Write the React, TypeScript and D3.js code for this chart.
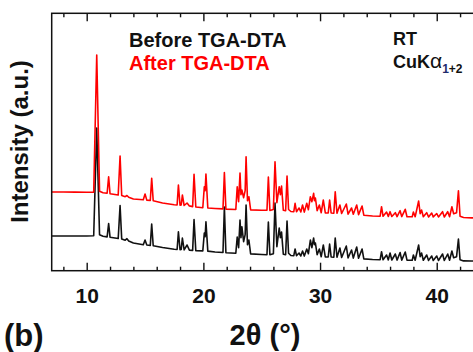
import { useEffect, useRef } from "react";
import * as d3 from "d3";

// 2θ grid (deg) shared by both patterns
const twoTheta = [
  7.0, 8.0, 9.0, 10.0, 10.6, 10.86, 11.1, 11.4, 11.75, 11.88, 12.0, 12.7, 12.86, 13.0, 13.3, 13.45, 13.6, 14.0,
  14.85, 15.0, 15.15, 15.45, 15.57, 15.7, 16.5, 17.5, 17.75, 17.86, 18.0, 18.1, 18.2, 18.35, 18.6, 18.8,
  19.08, 19.2, 19.35, 19.95, 20.08, 20.15, 20.22, 20.38, 21.0, 21.68, 21.8, 21.93, 22.78, 22.9, 23.02, 23.14,
  23.22, 23.3, 23.45, 23.58, 23.66, 23.78, 23.9, 24.05, 25.0, 25.45, 25.57, 25.7, 26.0, 26.14, 26.3, 26.5,
  26.6, 26.7, 26.85, 27.05, 27.17, 27.3, 27.5, 27.75, 27.86, 27.98, 28.2, 28.35, 28.5, 28.65, 28.86, 29.0,
  29.17, 29.3, 29.45, 29.52, 29.6, 29.75, 29.94, 30.1, 30.28, 30.45, 30.7, 30.82, 30.95, 31.18, 31.3, 31.45,
  31.7, 31.85, 32.25, 32.4, 32.7, 32.85, 33.14, 33.3, 33.6, 33.75, 34.5, 35.15, 35.27, 35.4, 35.7, 35.85,
  36.0, 36.15, 36.45, 36.6, 36.86, 37.0, 37.3, 37.45, 37.9, 38.0, 38.15, 38.45, 38.58, 38.7, 38.85, 39.14,
  39.3, 39.57, 39.7, 40.0, 40.15, 40.5, 40.65, 40.94, 41.1, 41.3, 41.45, 41.7, 41.86, 42.0, 42.3, 43.0, 43.5,
];

// intensity (counts), before TGA-DTA
const before = [
  347, 347, 347, 347, 350, 1427, 360, 345, 338, 472, 335, 322, 652, 318, 305, 320, 298, 277,
  259, 307, 257, 253, 467, 250, 232, 215, 212, 390, 210, 212, 327, 208, 257, 205,
  203, 512, 201, 198, 377, 340, 490, 196, 187, 182, 637, 180, 175, 337, 230, 507,
  330, 440, 290, 360, 657, 260, 307, 168, 162, 160, 487, 159, 170, 677, 240, 427,
  330, 387, 165, 160, 497, 175, 152, 150, 217, 150, 177, 147, 197, 146, 217, 170,
  307, 230, 327, 260, 277, 160, 217, 140, 257, 138, 137, 267, 137, 135, 327, 134,
  227, 132, 247, 128, 207, 126, 237, 124, 217, 118, 112, 110, 190, 109, 157, 108,
  177, 107, 167, 106, 182, 106, 187, 105, 105, 157, 104, 257, 140, 177, 104, 157,
  103, 147, 103, 147, 102, 167, 102, 167, 105, 197, 130, 140, 317, 110, 98, 97, 96,
];

// intensity (counts), after TGA-DTA (plotted shifted up by afterOffset)
const after = [
  347, 347, 346, 344, 345, 1717, 355, 340, 335, 500, 330, 317, 707, 312, 300, 312, 295, 277,
  269, 327, 266, 262, 484, 260, 237, 220, 217, 417, 215, 217, 317, 212, 237, 208,
  201, 524, 197, 190, 400, 360, 527, 187, 182, 178, 542, 176, 172, 400, 250, 537,
  320, 367, 290, 360, 700, 260, 300, 168, 165, 164, 497, 163, 172, 650, 240, 400,
  320, 407, 165, 160, 507, 172, 152, 150, 234, 150, 187, 147, 217, 146, 234, 170,
  300, 250, 334, 260, 287, 160, 217, 140, 267, 138, 137, 267, 137, 135, 350, 134,
  217, 132, 227, 126, 187, 124, 217, 121, 207, 115, 107, 105, 200, 104, 147, 103,
  150, 102, 140, 101, 160, 101, 174, 100, 100, 147, 99, 257, 130, 167, 99, 140,
  98, 137, 98, 132, 97, 150, 97, 150, 100, 200, 130, 140, 360, 105, 92, 88, 87,
];
const afterOffset = 440;

const majorTicks = [10, 20, 30, 40];
const minorTicks = [8, 12, 14, 16, 18, 22, 24, 26, 28, 32, 34, 36, 38, 42];

const W = 473;
const H = 352;
const FONT = "'Liberation Sans', Arial, sans-serif";

export default function App() {
  const svgRef = useRef<SVGSVGElement>(null);

  const left = 51.7;
  const top = 13.3;
  const bottom = 270.7;
  const right = 483.4;

  const x = d3.scaleLinear().domain([7, 44]).range([left, right]);
  const y = d3.scaleLinear().domain([0, 2574]).range([bottom, top]);

  const ptsBefore: [number, number][] = twoTheta.map((t, i) => [t, before[i]]);
  const ptsAfter: [number, number][] = twoTheta.map((t, i) => [t, after[i] + afterOffset]);
  const line = d3
    .line<[number, number]>()
    .x((d) => x(d[0]))
    .y((d) => y(d[1]));

  useEffect(() => {
    const svg = d3.select(svgRef.current);
    const style = (g: any) => {
      g.select(".domain").remove();
      g.selectAll(".tick line").attr("stroke", "#111").attr("stroke-width", 1.4);
      g.selectAll(".tick text")
        .attr("font-family", FONT)
        .attr("font-weight", "bold")
        .attr("font-size", 21)
        .attr("fill", "#111");
    };
    svg
      .select<SVGGElement>(".x-major")
      .attr("transform", `translate(0,${bottom})`)
      .call(d3.axisBottom(x).tickValues(majorTicks).tickSize(-8).tickSizeOuter(0).tickPadding(17).tickFormat(d3.format("d")))
      .call(style);
    svg
      .select<SVGGElement>(".x-minor")
      .attr("transform", `translate(0,${bottom})`)
      .call(d3.axisBottom(x).tickValues(minorTicks).tickSize(-4).tickSizeOuter(0).tickFormat(() => ""))
      .call(style);
    svg
      .select<SVGGElement>(".t-major")
      .attr("transform", `translate(0,${top})`)
      .call(d3.axisTop(x).tickValues(majorTicks).tickSize(-8).tickSizeOuter(0).tickFormat(() => ""))
      .call(style);
    svg
      .select<SVGGElement>(".t-minor")
      .attr("transform", `translate(0,${top})`)
      .call(d3.axisTop(x).tickValues(minorTicks).tickSize(-4).tickSizeOuter(0).tickFormat(() => ""))
      .call(style);
  }, []);

  return (
    <div style={{ position: "fixed", left: 0, top: 0 }}>
      <svg ref={svgRef} width={W} height={H} style={{ display: "block", background: "#fff" }}>
        <defs>
          <clipPath id="plot">
            <rect x={left} y={top} width={right - left} height={bottom - top} />
          </clipPath>
        </defs>
        <g clipPath="url(#plot)" fill="none" strokeWidth={1.6} strokeLinejoin="round">
          <path d={line(ptsBefore) || ""} stroke="#111" />
          <path d={line(ptsAfter) || ""} stroke="#ff0000" />
        </g>
        <rect x={left} y={top} width={right - left} height={bottom - top} fill="none" stroke="#111" strokeWidth={1.5} />
        <g className="x-major" />
        <g className="x-minor" />
        <g className="t-major" />
        <g className="t-minor" />

        <g fontFamily={FONT} fontWeight="bold">
          <text x={129} y={47} fontSize={20} fill="#111">Before TGA-DTA</text>
          <text x={129} y={69.5} fontSize={20} fill="#ff0000">After TGA-DTA</text>
          <text x={393} y={45} fontSize={18} fill="#111">RT</text>
          <text x={393} y={68} fontSize={18} fill="#111">
            CuK
            <tspan fontWeight="normal" fontSize={21}>α</tspan>
            <tspan fontSize={12} dy={5} fill="#1d2a6b">1</tspan>
            <tspan fontSize={12} fill="#111">+2</tspan>
          </text>
          <text transform="translate(27.5,141.5) rotate(-90)" textAnchor="middle" fontSize={24} fill="#111">
            Intensity (a.u.)
          </text>
          <text x={265} y={345} textAnchor="middle" fontSize={29} fill="#111">2θ (°)</text>
          <text x={4} y={346} fontSize={31} fill="#111">(b)</text>
        </g>
      </svg>
    </div>
  );
}
